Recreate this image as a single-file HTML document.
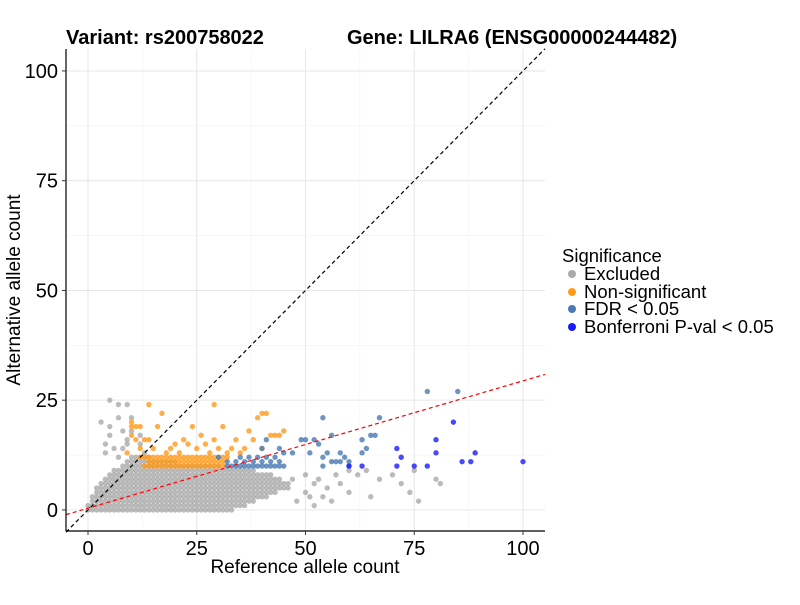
<!DOCTYPE html>
<html><head><meta charset="utf-8"><style>
body{margin:0;background:#fff;position:relative}
svg{font-family:"Liberation Sans",Arial,sans-serif}
</style></head><body>
<svg id="chart" width="800" height="600"></svg>
<script>
// ---- data ----
const xTicks=[0,25,50,75,100];
const yTicks=[0,25,50,75,100];
const excludedRowY=[0,1,2,3,4,5,6,7,8,9,10,11,12];
const excludedRowXStart=[0,0,1,1,2,2,3,4,5,6,8,9,10];
const excludedRowXEnd=[33,36,38,41,43,45,46,44,42,38,30,20,14];
const excludedX=[5,7,9,3,7,10,5,8,10,5,9,12,4,9,12,6,8,13,4,7,47,50,52,55,54,56,58,60,62,65,67,70,74,76,80,81,75,60,64,57,50,52,72,46,48,51,53];
const excludedY=[25,24,24,20,21,21,19,18,18,17,16,17,15,15,15,14,14,13,13,12,7,8,6,5,3,2,6,4,8,3,7,8,4,2,7,6,9,9,9,8,4,1,6,5,2,3,7];
const nonsigRowY=[10,11,12];
const nonsigRowXStart=[13,14,12];
const nonsigRowXEnd=[31,31,32];
const nonsigX=[10,10,11,12,14,17,10,11,13,14,16,22,24,29,34,31,36,38,40,39,41,37,42,43,45,44,40,29,19,20,25,27,28,21,23,33,35,26,18,15,30,32,12,9];
const nonsigY=[20,19,19,19,24,22,17,16,16,16,19,16,19,16,16,19,14,16,22,21,22,18,17,17,18,17,14,24,14,15,14,15,13,13,15,14,13,17,13,14,14,13,14,13];
const fdrX=[32,33,34,35,36,37,38,39,40,41,42,43,44,45,32,34,36,38,40,42,44,37,39,41,43,30,35,40,41,44,45,47,49,50,51,52,53,54,54,55,54,56,56,57,58,59,60,60,58,63,63,64,65,66,67,78,85];
const fdrY=[10,10,10,10,10,10,10,10,10,10,10,10,10,10,11,11,11,11,11,11,11,12,12,12,12,12,12,14,16,14,13,13,16,16,13,16,15,10,12,13,21,17,11,11,11,12,11,10,13,16,13,14,17,17,21,27,27];
const bonfX=[71,72,71,60,63,75,78,80,80,84,86,88,89,100];
const bonfY=[14,12,10,10,10,10,10,16,13,20,11,11,13,11];
const fitIntercept=0.4, fitSlope=0.29;

// ---- scales ----
const L=66,R=545,T=49,B=531;
const xMin=-5.06,xMax=105.06,yMin=-4.8,yMax=105;
const sx=v=>L+(v-xMin)/(xMax-xMin)*(R-L);
const sy=v=>B-(v-yMin)/(yMax-yMin)*(B-T);
const svg=document.getElementById('chart');
const NS='http://www.w3.org/2000/svg';
function mk(tag,attrs,parent){const e=document.createElementNS(NS,tag);for(const k in attrs)e.setAttribute(k,attrs[k]);(parent||svg).appendChild(e);return e;}

const grid=mk('g',{});


for(let v=0;v<=100;v+=12.5){
  const major=v%25===0;
  mk('line',{x1:sx(v),x2:sx(v),y1:T,y2:B,stroke:major?'#e6e6e6':'#f2f2f2','stroke-width':major?1:0.6},grid);
  mk('line',{x1:L,x2:R,y1:sy(v),y2:sy(v),stroke:major?'#e6e6e6':'#f2f2f2','stroke-width':major?1:0.6},grid);
}

function drawPts(xs,ys,color,name){
  const g=mk('g',{});
  
  
  for(let i=0;i<xs.length;i++){
    const c=mk('circle',{cx:sx(xs[i]),cy:sy(ys[i]),r:2.7,fill:color,'fill-opacity':0.8},g);
    
    
  }
}
function expandRows(rowY,xs0,xs1){const X=[],Y=[];for(let i=0;i<rowY.length;i++)for(let x=xs0[i];x<=xs1[i];x++){X.push(x);Y.push(rowY[i]);}return [X,Y];}
const ex=expandRows(excludedRowY,excludedRowXStart,excludedRowXEnd);
drawPts(ex[0].concat(excludedX),ex[1].concat(excludedY),'#aaaaaa','excluded');
const ns=expandRows(nonsigRowY,nonsigRowXStart,nonsigRowXEnd);
drawPts(ns[0].concat(nonsigX),ns[1].concat(nonsigY),'#ff9a1a','non-significant');
drawPts(fdrX,fdrY,'#4a7ab3','fdr');
drawPts(bonfX,bonfY,'#1a1aff','bonferroni');

const idl=mk('line',{x1:sx(xMin),y1:sy(xMin),x2:sx(xMax),y2:sy(xMax),stroke:'#000','stroke-dasharray':'4,3','stroke-width':1.2});


const fit=mk('line',{x1:sx(xMin),y1:sy(fitIntercept+fitSlope*xMin),x2:sx(xMax),y2:sy(fitIntercept+fitSlope*xMax),stroke:'#ff0000','stroke-dasharray':'4,3','stroke-width':1.2});



const ax=mk('g',{});


mk('line',{x1:L,x2:L,y1:T,y2:B,stroke:'#000','stroke-width':1.2},ax);
mk('line',{x1:L,x2:R,y1:B,y2:B,stroke:'#000','stroke-width':1.2},ax);
xTicks.forEach(v=>{
  mk('line',{x1:sx(v),x2:sx(v),y1:B,y2:B+4,stroke:'#333'},ax);
  const t=mk('text',{x:sx(v),y:B+24,'text-anchor':'middle','font-size':20,fill:'#000'},ax);t.textContent=v;
  
  
});
yTicks.forEach(v=>{
  mk('line',{x1:L-4,x2:L,y1:sy(v),y2:sy(v),stroke:'#333'},ax);
  const t=mk('text',{x:L-8,y:sy(v)+7,'text-anchor':'end','font-size':20,fill:'#000'},ax);t.textContent=v;
  
  
});
</script>
<svg width="800" height="600" style="position:absolute;left:0;top:0;pointer-events:none">
<text x="66" y="44" font-size="20" font-weight="bold">Variant: rs200758022</text>
<text x="347" y="44" font-size="20" font-weight="bold">Gene: LILRA6 (ENSG00000244482)</text>
<text x="305" y="573" font-size="19" text-anchor="middle">Reference allele count</text>
<text transform="translate(20,290) rotate(-90)" font-size="19" text-anchor="middle">Alternative allele count</text>
<g font-size="18.5">
<text x="562" y="262">Significance</text>
<g><circle cx="572" cy="274" r="4" fill="#aaaaaa"/><text x="584" y="280">Excluded</text></g>
<g><circle cx="572" cy="292" r="4" fill="#ff9a1a"/><text x="584" y="298">Non-significant</text></g>
<g><circle cx="572" cy="309" r="4" fill="#4a7ab3"/><text x="584" y="315">FDR &lt; 0.05</text></g>
<g><circle cx="572" cy="327" r="4" fill="#1a1aff"/><text x="584" y="333">Bonferroni P-val &lt; 0.05</text></g>
</g>
</svg>
</body></html>
